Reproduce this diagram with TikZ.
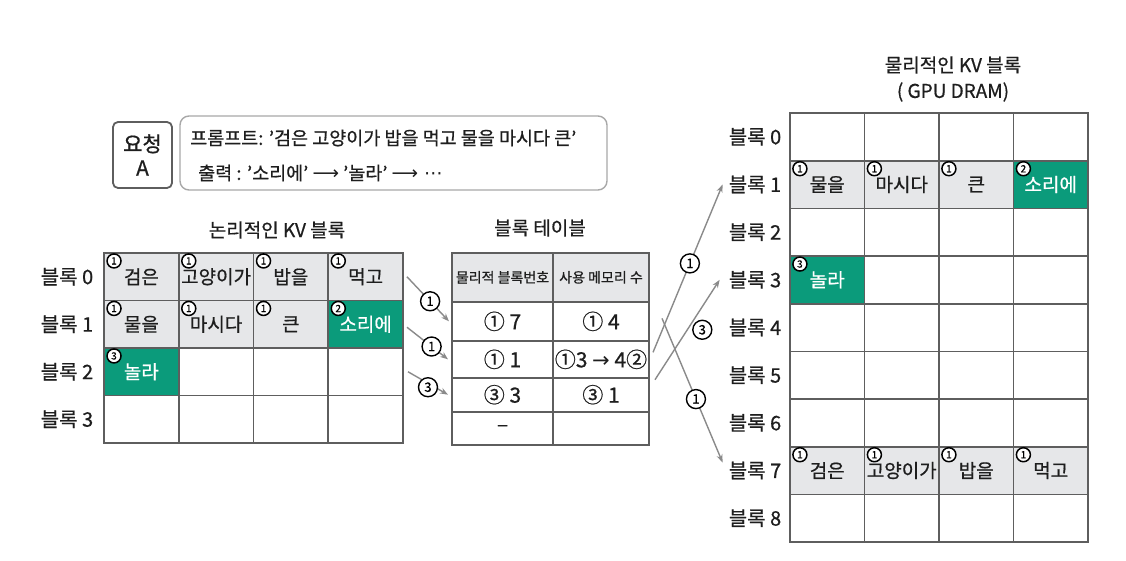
\documentclass[tikz,border=0pt]{standalone}
\usepackage{fontspec}
\setmainfont{Noto Sans CJK KR}[FakeBold=0.7]
\newfontfamily\symfont{DejaVu Sans}
\usetikzlibrary{arrows.meta}
\definecolor{gridc}{HTML}{5E5E5E}
\definecolor{grayc}{HTML}{E6E7E9}
\definecolor{greenc}{HTML}{0B9B7B}
\definecolor{arrc}{HTML}{8A8A8A}
\definecolor{boxc}{HTML}{A8A8A8}
\definecolor{txt}{HTML}{1E1E1E}
\begin{document}
\begin{tikzpicture}[x=1pt,y=-1pt,
  cellbase/.style={draw=gridc, line width=1.6pt, minimum width=74.7pt, minimum height=47.6pt,
    inner sep=0pt, outer sep=0pt, font=\fontsize{19}{21}\selectfont, text=txt},
  ecell/.style={cellbase, fill=white},
  gcell/.style={cellbase, fill=grayc},
  vcell/.style={cellbase, fill=greenc, text=white},
  badge/.style={circle, draw=black, line width=1.5pt, fill=white, inner sep=0pt,
    minimum size=14pt, font=\fontsize{10}{10}\selectfont, text=black},
  rowlab/.style={font=\fontsize{20}{22}\selectfont, text=txt, inner sep=1pt},
  ttl/.style={font=\fontsize{19}{21}\selectfont, text=txt, inner sep=1pt},
  tcell/.style={draw=gridc, line width=1.6pt, inner sep=0pt, outer sep=0pt,
    font=\fontsize{21}{23}\selectfont, text=txt},
  hcell/.style={tcell, fill=grayc, font=\fontsize{14}{16}\selectfont},
  arr/.style={draw=arrc, line width=1.4pt, -{Stealth[length=8pt,width=6pt]}},
  alab/.style={circle, draw=black, line width=1.4pt, fill=white, inner sep=0pt,
    minimum size=19pt, font=\fontsize{13}{13}\selectfont, text=black}
]
\useasboundingbox (0,0) rectangle (1126,561);

% ---------- request ----------
\node[draw=gridc, line width=1.8pt, rounded corners=5pt, minimum width=59pt, minimum height=66pt,
  align=center, inner sep=0pt, font=\fontsize{21}{24}\selectfont, text=txt] (req) at (142.5,155) {요청\\A};
\node[draw=boxc, line width=1.4pt, rounded corners=9pt, minimum width=427pt, minimum height=74pt,
  inner sep=0pt] (speech) at (393.5,153) {};
\node[anchor=west, font=\fontsize{18.5}{20}\selectfont, text=txt, inner sep=0pt] (prompt) at (190,138)
  {프롬프트: '검은 고양이가 밥을 먹고 물을 마시다 큰'};
\node[anchor=west, font=\fontsize{18.5}{20}\selectfont, text=txt, inner sep=0pt] (output) at (198,173)
  {출력 : '소리에' {\symfont ⟶} '놀라' {\symfont ⟶ ⋯}};

% ---------- logical KV blocks ----------
\node[ttl] (ltitle) at (277,230) {논리적인 KV 블록};
\foreach \r in {0,...,3}
  \node[rowlab] (LL-\r) at (67,{253+47.5*(\r+0.5)}) {블록 \r};
\foreach \r/\c in {2/1,2/2,2/3,3/0,3/1,3/2,3/3}
  \node[ecell] (L-\r-\c) at ({104+74.75*(\c+0.5)},{253+47.5*(\r+0.5)}) {};
\foreach \r/\c/\s/\t in {0/0/gcell/검은, 0/1/gcell/고양이가, 0/2/gcell/밥을, 0/3/gcell/먹고,
    1/0/gcell/물을, 1/1/gcell/마시다, 1/2/gcell/큰, 1/3/vcell/소리에, 2/0/vcell/놀라}
  \node[\s] (L-\r-\c) at ({104+74.75*(\c+0.5)},{253+47.5*(\r+0.5)}) {\t};
\foreach \r/\c/\b in {0/0/1,0/1/1,0/2/1,0/3/1,1/0/1,1/1/1,1/2/1,1/3/2,2/0/3}
  \node[badge] (LB-\r-\c) at ([xshift=10pt,yshift=-8pt]L-\r-\c.north west) {\b};

% ---------- block table ----------
\node[ttl] (ttitle) at (540,228) {블록 테이블};
\node[hcell, minimum width=101pt, minimum height=48.7pt] (T-0-0) at (502.5,277.35) {물리적 블록번호};
\node[hcell, minimum width=96pt, minimum height=48.7pt] (T-0-1) at (601,277.35) {사용 메모리 수};
\node[tcell, minimum width=101pt, minimum height=39.3pt] (T-1-0) at (502.5,321.35) {① 7};
\node[tcell, minimum width=96pt, minimum height=39.3pt] (T-1-1) at (601,321.35) {① 4\hspace{18pt}};
\node[tcell, minimum width=101pt, minimum height=36.7pt] (T-2-0) at (502.5,359.35) {① 1};
\node[tcell, minimum width=96pt, minimum height=36.7pt] (T-2-1) at (601,359.35) {①3 {\symfont →} 4②};
\node[tcell, minimum width=101pt, minimum height=34pt] (T-3-0) at (502.5,394.7) {③ 3};
\node[tcell, minimum width=96pt, minimum height=34pt] (T-3-1) at (601,394.7) {③ 1\hspace{10pt}};
\node[tcell, minimum width=101pt, minimum height=33.3pt] (T-4-0) at (502.5,428.35) {–};
\node[tcell, minimum width=96pt, minimum height=33.3pt] (T-4-1) at (601,428.35) {};

% ---------- physical KV blocks ----------
\node[ttl] (ptitle) at (953,65) {물리적인 KV 블록};
\node[ttl] (ptitle2) at (953,92) {( GPU DRAM)};
\foreach \r in {0,...,8}
  \node[rowlab] (PL-\r) at (755,{113+47.67*(\r+0.5)}) {블록 \r};
\foreach \r in {0,2,4,5,6,8}
  \foreach \c in {0,...,3}
    \node[ecell] (P-\r-\c) at ({790+74.5*(\c+0.5)},{113+47.67*(\r+0.5)}) {};
\foreach \c in {1,2,3}
  \node[ecell] (P-3-\c) at ({790+74.5*(\c+0.5)},{113+47.67*3.5}) {};
\foreach \r/\c/\s/\t in {1/0/gcell/물을, 1/1/gcell/마시다, 1/2/gcell/큰, 1/3/vcell/소리에,
    3/0/vcell/놀라, 7/0/gcell/검은, 7/1/gcell/고양이가, 7/2/gcell/밥을, 7/3/gcell/먹고}
  \node[\s] (P-\r-\c) at ({790+74.5*(\c+0.5)},{113+47.67*(\r+0.5)}) {\t};
\foreach \r/\c/\b in {1/0/1,1/1/1,1/2/1,1/3/2,3/0/3,7/0/1,7/1/1,7/2/1,7/3/1}
  \node[badge] (PB-\r-\c) at ([xshift=10pt,yshift=-8pt]P-\r-\c.north west) {\b};

% ---------- arrows: logical -> table ----------
\draw[arr] ([xshift=4pt]L-0-3.east) -- node[alab, pos=0.55] (a1) {1} ([xshift=-3pt]T-1-0.west);
\draw[arr] ([xshift=4pt,yshift=-3pt]L-1-3.east) -- node[alab, pos=0.6] (a2) {1} ([xshift=-4pt]T-2-0.west);
\draw[arr] ([xshift=5pt]L-2-3.east) -- node[alab, pos=0.5, yshift=-4pt] (a3) {3} ([xshift=-4pt]T-3-0.west);

% ---------- arrows: table -> physical ----------
\draw[arr] ([xshift=4pt,yshift=7pt]T-2-1.east) -- node[alab, pos=0.53] (b1) {1} ([xshift=-5pt]PL-1.west);
\draw[arr] ([xshift=6pt,yshift=-2pt]T-3-1.north east) -- node[alab, pos=0.5, xshift=15pt] (b3) {3} ([xshift=-8pt]PL-3.west);
\draw[arr] ([xshift=13pt,yshift=3pt]T-1-1.east) -- node[alab, pos=0.56] (b7) {1} ([xshift=-5pt,yshift=8pt]PL-7.west);
\end{tikzpicture}
\end{document}
